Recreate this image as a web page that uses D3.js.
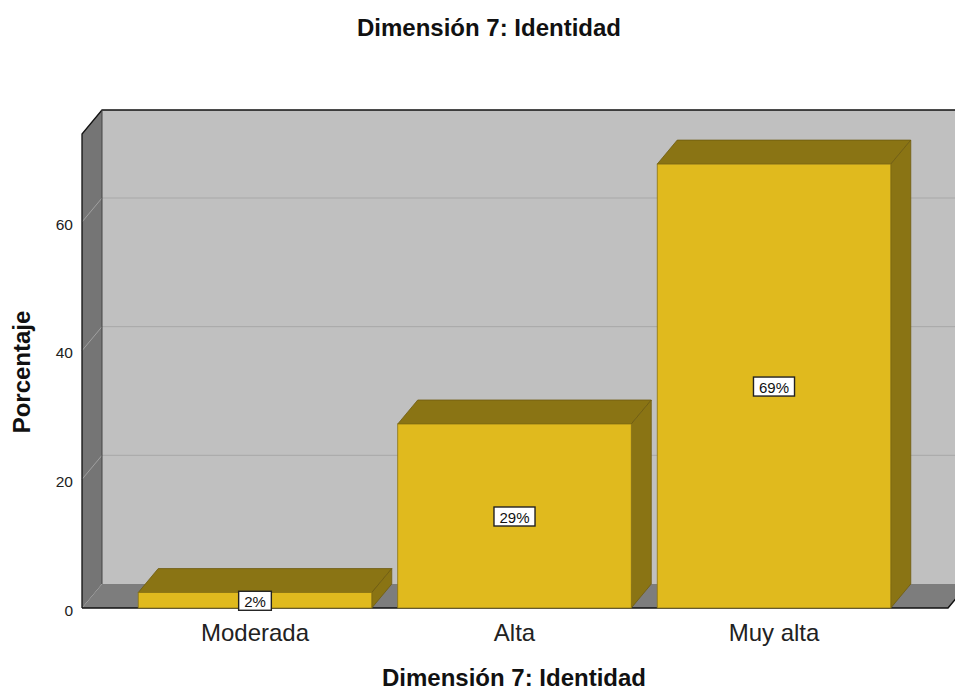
<!DOCTYPE html>
<html><head><meta charset="utf-8">
<script src="https://cdn.jsdelivr.net/npm/d3@7"></script>
<style>body{margin:0;background:#fff;} svg{display:block;font-family:"Liberation Sans",Arial,sans-serif;}</style>
</head><body>
<svg id="chart" width="955" height="691"></svg>
<script>
const categories = ["Moderada", "Alta", "Muy alta"];
const values = [2.4, 28.6, 69.0];
const labels = ["2%", "29%", "69%"];
const yTicks = [0, 20, 40, 60];
const title = "Dimensión 7: Identidad";
const xTitle = "Dimensión 7: Identidad";
const yTitle = "Porcentaje";

const svg = d3.select("#chart");
const W = 955, H = 691;
const DX = 20, DY = -24;               // depth offset
const x0 = 82, x1 = 948;               // front floor extent
const y = d3.scaleLinear().domain([0, 60]).range([608, 222]);
const yMax = y.invert(134);
const x = d3.scalePoint().domain(categories).range([255, 774]);
const bw = x.step() * 0.9;

const line = pts => "M" + pts.map(p => p.join(",")).join("L") + "Z";

// back wall
svg.append("path").attr("d", line([[x0+DX, y(yMax)+DY],[W+40, y(yMax)+DY],[W+40, y(0)+DY],[x0+DX, y(0)+DY]]))
  .attr("fill", "#c0c0c0");
svg.selectAll(".gb").data(yTicks.filter(d => d > 0)).join("line")
  .attr("x1", x0+DX).attr("x2", W+40)
  .attr("y1", d => y(d)+DY).attr("y2", d => y(d)+DY)
  .attr("stroke", "#a8a8a8").attr("stroke-width", 1);
// left wall
svg.append("path").attr("d", line([[x0, y(yMax)],[x0+DX, y(yMax)+DY],[x0+DX, y(0)+DY],[x0, y(0)]]))
  .attr("fill", "#757575");
svg.selectAll(".gl").data(yTicks.filter(d => d > 0)).join("line")
  .attr("x1", x0).attr("x2", x0+DX)
  .attr("y1", d => y(d)).attr("y2", d => y(d)+DY)
  .attr("stroke", "#a0a0a0").attr("stroke-width", 1);
// floor
svg.append("path").attr("d", line([[x0, y(0)],[x0+DX, y(0)+DY],[x1+DX, y(0)+DY],[x1, y(0)]]))
  .attr("fill", "#7d7d7d");
// outlines
svg.append("path").attr("d", `M${x0},${y(0)}L${x0},${y(yMax)}L${x0+DX},${y(yMax)+DY}L${W+40},${y(yMax)+DY}`)
  .attr("fill", "none").attr("stroke", "#111").attr("stroke-width", 1.3);
svg.append("line").attr("x1", x0+DX).attr("x2", x0+DX).attr("y1", y(yMax)+DY).attr("y2", y(0)+DY)
  .attr("stroke", "#444").attr("stroke-width", 1);
svg.append("path").attr("d", `M${x0},${y(0)}L${x1},${y(0)}L${x1+DX},${y(0)+DY}`)
  .attr("fill", "none").attr("stroke", "#111").attr("stroke-width", 1.5);

// bars
const data = categories.map((c, i) => ({c, v: values[i], l: labels[i]}));
const g = svg.append("g");
const bars = g.selectAll("g.bar").data(data).join("g").attr("class", "bar");
bars.append("path").attr("d", d => {
  const l = x(d.c) - bw/2, r = x(d.c) + bw/2, t = y(d.v);
  return line([[l, t],[l+DX, t+DY],[r+DX, t+DY],[r, t]]);
}).attr("fill", "#8a7414").attr("stroke", "#6e5c10").attr("stroke-width", 0.8);
bars.append("path").attr("d", d => {
  const r = x(d.c) + bw/2, t = y(d.v), b = y(0);
  return line([[r, t],[r+DX, t+DY],[r+DX, b+DY],[r, b]]);
}).attr("fill", "#8a7414").attr("stroke", "#6e5c10").attr("stroke-width", 0.8);
bars.append("rect")
  .attr("x", d => x(d.c) - bw/2).attr("y", d => y(d.v))
  .attr("width", bw).attr("height", d => y(0) - y(d.v))
  .attr("fill", "#e0ba1e").attr("stroke", "#8a7414").attr("stroke-width", 0.8);

// value labels
bars.each(function(d) {
  const cx = x(d.c), cy = (y(d.v) + y(0)) / 2;
  const sel = d3.select(this);
  const box = sel.append("rect");
  const t = sel.append("text").attr("x", cx).attr("y", cy + 1).attr("text-anchor", "middle")
    .attr("dominant-baseline", "central").attr("font-size", 15).attr("fill", "#111").text(d.l);
  const bb = t.node().getBBox();
  box.attr("x", cx - bb.width/2 - 5.5).attr("y", cy - 9).attr("width", bb.width + 11).attr("height", 19)
    .attr("fill", "#fff").attr("stroke", "#222").attr("stroke-width", 1.4);
});

// y axis labels
svg.selectAll(".yt").data(yTicks).join("text")
  .attr("x", 73).attr("y", d => y(d) + 2).attr("text-anchor", "end").attr("dominant-baseline", "central")
  .attr("font-size", 15.5).attr("fill", "#222").text(d => d);

// category labels
svg.selectAll(".xt").data(categories).join("text")
  .attr("x", d => x(d)).attr("y", 641).attr("text-anchor", "middle")
  .attr("font-size", 24).attr("fill", "#222").text(d => d);

// titles
svg.append("text").attr("x", 489).attr("y", 36).attr("text-anchor", "middle")
  .attr("font-size", 24).attr("font-weight", "bold").attr("fill", "#111").text(title);
svg.append("text").attr("x", 514).attr("y", 686).attr("text-anchor", "middle")
  .attr("font-size", 24).attr("font-weight", "bold").attr("fill", "#111").text(xTitle);
svg.append("text").attr("transform", "translate(30,372) rotate(-90)").attr("text-anchor", "middle")
  .attr("font-size", 24).attr("font-weight", "bold").attr("fill", "#111").text(yTitle);
</script>
</body></html>
